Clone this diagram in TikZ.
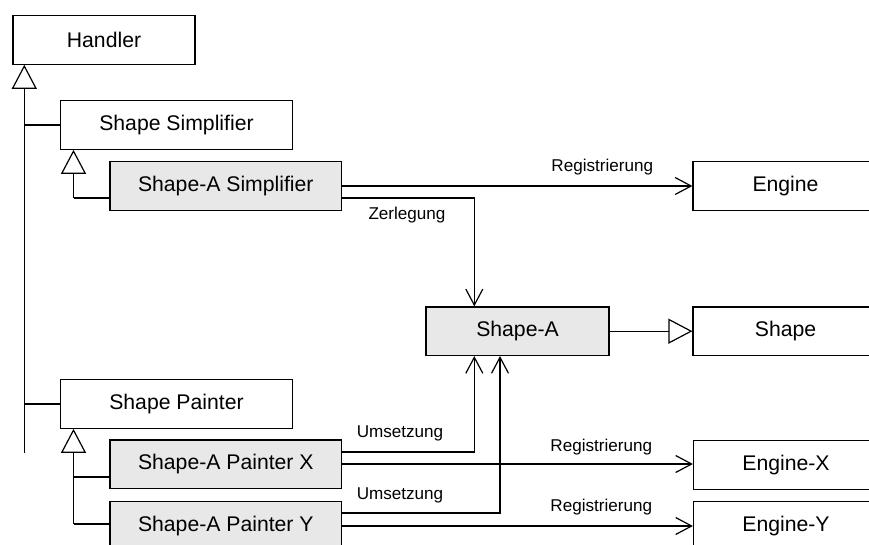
\documentclass[tikz,border=0pt]{standalone}
\usepackage{fontspec}
\setmainfont{Liberation Sans}
\usetikzlibrary{arrows.meta}
\definecolor{boxgray}{HTML}{E8E8E8}
\tikzset{
  cls/.style={draw=black, line width=1.2pt, fill=white, minimum width=231.6pt,
    minimum height=48.5pt, inner sep=0pt, font=\fontsize{21.2}{25}\selectfont},
  impl/.style={cls, fill=boxgray},
  peer/.style={cls, minimum width=185pt},
  link/.style={draw=black, line width=1.2pt},
  gen/.style={link, -{Triangle[open, length=24pt, width=25pt]}},
  assoc/.style={link, -{Straight Barb[length=16pt, width=17pt]}},
  lbl/.style={font=\fontsize{17.1}{20}\selectfont, inner sep=0pt},
}
\begin{document}
\begin{tikzpicture}[x=1pt, y=-1pt]
\useasboundingbox (0,0) rectangle (869,545);
\clip (0,0) rectangle (869,545);

% classes
\node[cls, minimum width=182pt] (handler) at (104,40) {Handler};
\node[cls]  (simp)   at (176.5,125)  {Shape Simplifier};
\node[impl] (asimp)  at (225.8,186)  {Shape-A Simplifier};
\node[cls]  (paint)  at (176.5,404)  {Shape Painter};
\node[impl] (apx)    at (225.8,464.3) {Shape-A Painter X};
\node[impl] (apy)    at (225.8,526)  {Shape-A Painter Y};
\node[peer] (engine) at (785.5,186)  {Engine};
\node[impl, minimum width=183pt] (shapea) at (517.5,331.2) {Shape-A};
\node[peer] (shape)  at (785.5,331.2) {Shape};
\node[peer] (engx)   at (786,465)    {Engine-X};
\node[peer] (engy)   at (786,526)    {Engine-Y};

% inheritance trees
\coordinate (h0) at (24.3,453);
\draw[gen] (h0) -- (handler.south -| h0);
\draw[link] (h0 |- simp.west) -- (simp.west);
\draw[link] (h0 |- paint.west) -- (paint.west);

\coordinate (s0) at (73.5,198);
\draw[gen] (s0) -- (simp.south -| s0);
\draw[link] (s0) -- (s0 -| asimp.west);

\coordinate (p0) at (73.5,524);
\coordinate (p1) at (73.5,477);
\draw[gen] (p0) -- (paint.south -| p0);
\draw[link] (p1) -- (p1 -| apx.west);
\draw[link] (p0) -- (p0 -| apy.west);

\draw[gen] (shapea.east) -- (shape.west);

% registrations
\draw[assoc] (asimp.east) -- node[lbl, xshift=85pt, yshift=19pt] {Registrierung} (engine.west);
\coordinate (rx) at (341.7,464);
\draw[assoc] (rx) -- node[lbl, xshift=84pt, yshift=17pt] {Registrierung} (rx -| engx.west);
\coordinate (ry) at (341.7,526);
\draw[assoc] (ry) -- node[lbl, xshift=84pt, yshift=19pt] {Registrierung} (ry -| engy.west);

% decomposition and translation
\coordinate (z0) at (341.7,198);
\coordinate (z1) at (474.3,198);
\draw[assoc] (z0) -- (z1) -- (z1 |- shapea.north);
\node[lbl] (zlab) at (407,215) {Zerlegung};

\coordinate (ux0) at (341.7,452);
\coordinate (ux1) at (474.3,452);
\draw[assoc] (ux0) -- (ux1) -- (ux1 |- shapea.south);
\node[lbl] (uxlab) at (400,433) {Umsetzung};

\coordinate (uy0) at (341.7,513);
\coordinate (uy1) at (500,513);
\draw[assoc] (uy0) -- (uy1) -- (uy1 |- shapea.south);
\node[lbl] (uylab) at (400,495) {Umsetzung};
\end{tikzpicture}
\end{document}
